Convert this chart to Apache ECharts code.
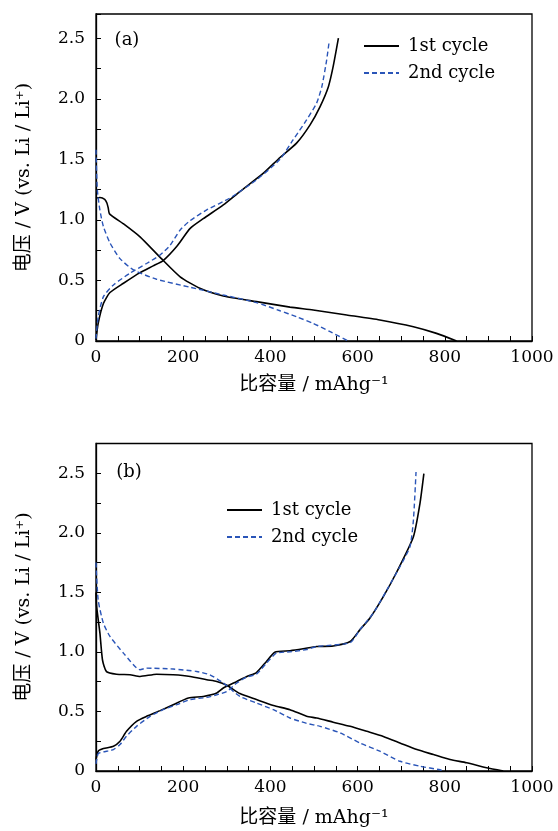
<!DOCTYPE html>
<html><head><meta charset="utf-8">
<script src="https://cdn.jsdelivr.net/npm/echarts@6/dist/echarts.min.js"></script>
<style>html,body{margin:0;padding:0;background:#fff}#c{width:558px;height:831px}</style>
</head><body><div id="c"></div>
<script>
// ---- data ----
const seriesNames = ['1st cycle', '2nd cycle'];
const panelLabels = ['(a)', '(b)'];
const xAxisName = '比容量 / mAhg⁻¹';
const yAxisName = '电压 / V (vs. Li / Li⁺)';
const xMax = 1000;
const yMaxA = 2.7;
const yMaxB = 2.75;

// panel (a)
const a1Discharge = [[0,1.18],[9,1.185],[20,1.17],[25,1.14],[28,1.1],[31,1.05],[62,0.97],[101,0.86],[150,0.68],[193,0.53],[238,0.435],[292,0.372],[368,0.325],[445,0.28],[498,0.256],[575,0.215],[651,0.174],[728,0.118],[781,0.063],[827,0]];
const a1Charge = [[0,0.01],[5,0.146],[17,0.31],[32,0.40],[63,0.477],[101,0.565],[131,0.62],[154,0.664],[185,0.78],[216,0.93],[246,1.01],[292,1.124],[330,1.234],[384,1.386],[422,1.515],[460,1.634],[491,1.785],[514,1.936],[533,2.10],[544,2.267],[556,2.50]];
const a2Discharge = [[0,1.58],[3,1.25],[9,1.08],[17,0.945],[32,0.81],[55,0.68],[86,0.587],[139,0.51],[216,0.444],[292,0.38],[368,0.317],[422,0.25],[460,0.2],[498,0.146],[537,0.077],[579,0]];
const a2Charge = [[0,0.02],[5,0.2],[17,0.366],[40,0.463],[78,0.56],[116,0.64],[147,0.71],[170,0.79],[193,0.917],[216,0.994],[254,1.083],[307,1.18],[368,1.33],[422,1.5],[452,1.66],[483,1.826],[506,1.964],[518,2.10],[529,2.32],[535,2.48]];

// panel (b)
const b1Discharge = [[0,1.5],[1.5,1.38],[9,1.157],[15,0.93],[24,0.835],[47,0.813],[78,0.808],[101,0.794],[139,0.813],[177,0.808],[216,0.794],[254,0.766],[277,0.752],[300,0.72],[330,0.65],[368,0.60],[407,0.55],[445,0.515],[483,0.46],[506,0.445],[544,0.41],[583,0.375],[621,0.333],[659,0.29],[697,0.236],[736,0.18],[774,0.138],[812,0.096],[850,0.069],[896,0.027],[934,0]];
const b1Charge = [[0,0.096],[5,0.166],[17,0.188],[40,0.208],[55,0.25],[70,0.333],[93,0.417],[116,0.459],[147,0.507],[177,0.557],[212,0.613],[246,0.626],[277,0.655],[292,0.697],[323,0.752],[346,0.794],[368,0.827],[391,0.92],[410,0.998],[445,1.01],[475,1.026],[506,1.045],[544,1.05],[583,1.087],[605,1.185],[628,1.283],[659,1.464],[690,1.673],[728,1.967],[743,2.246],[752,2.497]];
const b2Discharge = [[0,1.75],[5,1.436],[17,1.24],[32,1.13],[63,0.99],[101,0.85],[116,0.864],[177,0.856],[231,0.836],[261,0.808],[292,0.739],[330,0.626],[368,0.571],[407,0.515],[445,0.445],[483,0.40],[514,0.375],[560,0.32],[605,0.236],[651,0.166],[697,0.082],[743,0.04],[789,0.01],[796,0]];
const b2Charge = [[0,0.06],[5,0.146],[17,0.16],[40,0.18],[55,0.222],[70,0.292],[93,0.375],[124,0.459],[154,0.515],[185,0.557],[216,0.60],[254,0.618],[277,0.64],[300,0.668],[323,0.739],[346,0.789],[368,0.813],[391,0.906],[414,0.99],[445,1.0],[483,1.02],[506,1.045],[583,1.078],[605,1.185],[636,1.325],[667,1.52],[697,1.715],[720,1.883],[728,2.106],[734,2.51]];

// ---- style ----
const FONT = "'DejaVu Serif', 'Noto Sans CJK SC', serif";
const BLACK = '#000000';
const BLUE = '#2a55b8';

const chart = echarts.init(document.getElementById('c'), null, {renderer: 'canvas'});

const grids = [
  {left: 96, right: 26, top: 14, height: 327},
  {left: 96, right: 26, top: 443.5, height: 327.5}
];

function xAxis(i) {
  return {
    type: 'value', gridIndex: i, min: 0, max: xMax, interval: 50,
    axisLine: {onZero: false, lineStyle: {color: BLACK, width: 1.3}},
    axisTick: {inside: true, length: 5, lineStyle: {color: BLACK, width: 1}},
    splitLine: {show: false},
    axisLabel: {
      color: BLACK, fontFamily: FONT, fontSize: 17, margin: 8,
      formatter: v => (Math.round(v) % 200 === 0 ? String(Math.round(v)) : '')
    }
  };
}
function yAxis(i, max) {
  return {
    type: 'value', gridIndex: i, min: 0, max: max, interval: 0.25,
    axisLine: {onZero: false, lineStyle: {color: BLACK, width: 1.3}},
    axisTick: {inside: true, length: 5, lineStyle: {color: BLACK, width: 1}},
    splitLine: {show: false},
    axisLabel: {
      color: BLACK, fontFamily: FONT, fontSize: 17, margin: 11,
      formatter: v => {
        if (Math.abs(v) < 1e-9) return '0';
        if (v > 2.5 + 1e-9) return '';
        return Math.abs(v * 2 - Math.round(v * 2)) < 1e-6 ? v.toFixed(1) : '';
      }
    }
  };
}
function line(name, data, gi, color, dashed) {
  return {
    name: name, type: 'line', xAxisIndex: gi, yAxisIndex: gi, data: data,
    symbol: 'none', smooth: 0.2,
    lineStyle: {color: color, width: dashed ? 1.4 : 1.6, type: dashed ? [5, 3] : 'solid'},
    itemStyle: {color: color},
    z: dashed ? 3 : 2
  };
}
function legend(left, top) {
  return {
    left: left, top: top, orient: 'vertical', itemWidth: 35, itemHeight: 14, itemGap: 9,
    data: seriesNames,
    itemStyle: {opacity: 0},
    textStyle: {color: BLACK, fontFamily: FONT, fontSize: 18, padding: [0, 0, 0, 4]},
    selectedMode: false
  };
}
function gtext(text, x, y, size, rot) {
  return {
    type: 'text', x: x, y: y, rotation: rot || 0,
    style: {text: text, fill: BLACK, fontFamily: FONT, fontSize: size,
      textAlign: 'center', textVerticalAlign: 'middle', align: 'center', verticalAlign: 'middle'}
  };
}

chart.setOption({
  animation: false,
  backgroundColor: '#fff',
  grid: grids.map(g => Object.assign({show: true, borderColor: BLACK, borderWidth: 1.3, backgroundColor: 'transparent'}, g)),
  xAxis: [xAxis(0), xAxis(1)],
  yAxis: [yAxis(0, yMaxA), yAxis(1, yMaxB)],
  legend: [legend(358, 32), legend(221, 496)],
  series: [
    line(seriesNames[0], a1Discharge, 0, BLACK, false),
    line(seriesNames[0], a1Charge, 0, BLACK, false),
    line(seriesNames[1], a2Discharge, 0, BLUE, true),
    line(seriesNames[1], a2Charge, 0, BLUE, true),
    line(seriesNames[0], b1Discharge, 1, BLACK, false),
    line(seriesNames[0], b1Charge, 1, BLACK, false),
    line(seriesNames[1], b2Discharge, 1, BLUE, true),
    line(seriesNames[1], b2Charge, 1, BLUE, true)
  ],
  graphic: [
    gtext(panelLabels[0], 127, 40, 18),
    gtext(panelLabels[1], 129, 472, 18),
    gtext(xAxisName, 314, 385, 19),
    gtext(xAxisName, 314, 818, 19),
    gtext(yAxisName, 24, 177.5, 19, Math.PI / 2),
    gtext(yAxisName, 24, 607, 19, Math.PI / 2)
  ]
});
</script>
</body></html>
